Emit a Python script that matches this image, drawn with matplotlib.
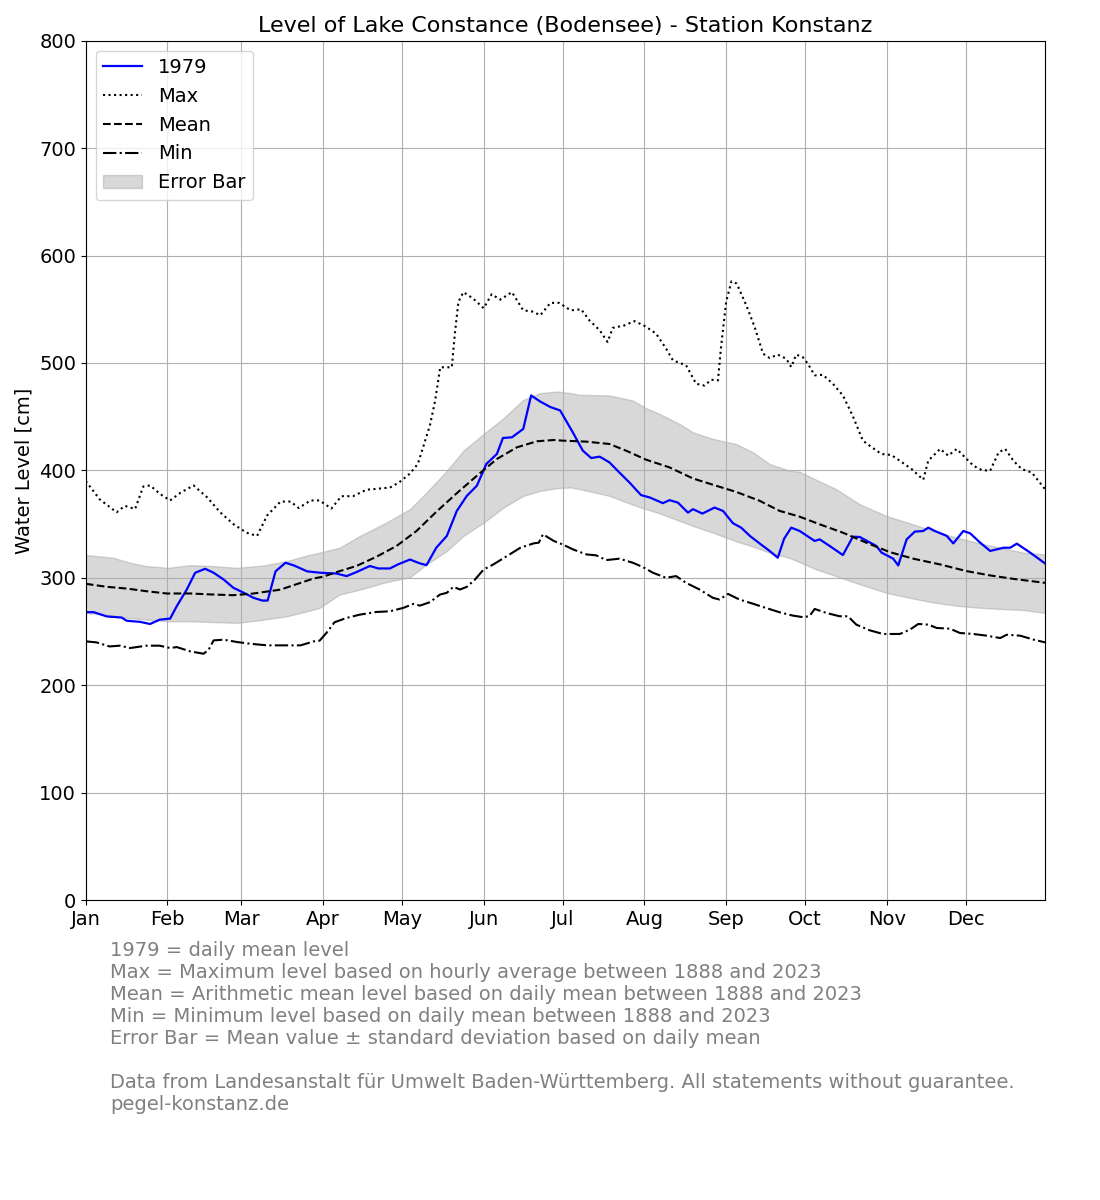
import matplotlib
matplotlib.use("Agg")
import matplotlib.pyplot as plt
import numpy as np

# 1979 daily mean level (day of year, cm)
y1979_days = [0, 3, 8, 13.6, 15.5, 20.5, 24.4, 28, 32, 34.5, 38.3, 41.5, 45.3, 48.5, 52.3, 56, 60, 63.7, 67, 69,
              72, 75.8, 79, 84, 89, 95, 99, 102.7, 107.8, 111, 115.4, 118.5, 123, 126.8, 129.3, 133, 137, 140.8,
              144.6, 148.4, 152, 156, 158.3, 161.7, 166, 169, 172.5, 176.3, 180, 184.8, 188.6, 191.8, 195, 198.7,
              202.5, 206.3, 210.7, 214, 219, 221.5, 224.7, 228.5, 230.4, 234, 238.6, 241.8, 245.6, 248.7, 252,
              255.7, 259.5, 262.6, 265, 267.7, 270.9, 276.6, 278.5, 282.3, 287.3, 291.1, 293.7, 300, 302, 306.4,
              308.3, 311.5, 314.6, 317.8, 319.7, 322.2, 326.7, 329.2, 333, 335.6, 339.4, 343.2, 348.3, 350.8,
              353.3, 358.4, 364]
y1979_vals = [268, 268, 264, 263, 260, 259, 257, 261, 262, 273.5, 289, 304.7, 308.4, 304.7, 298.4, 290.7, 286, 281.3,
              278.8, 278.8, 306, 314, 311.5, 306, 304.7, 304, 301.6, 305.3, 311, 308.7, 308.7, 312.5, 317, 313.4,
              311.8, 328, 339, 362.3, 376.3, 385.7, 406, 415.3, 430.2, 430.8, 438.6, 469.8, 464, 459, 455.8, 435.5,
              418.4, 411.5, 412.8, 407.5, 398, 388.8, 377, 374.8, 369.5, 372.3, 370, 360.7, 363.9, 359.8, 365.4,
              362.3, 350.8, 346.7, 339, 332, 325, 318.7, 336.4, 346.7, 343.6, 334.3, 335.8, 329.6, 321.2, 338.3,
              338, 329.6, 323.4, 317.8, 311.5, 335.8, 343, 343.6, 346.7, 343.6, 339, 332, 343.6, 341.4, 332.7, 325,
              328, 328, 331.8, 323.4, 313.4]

# Max level 1888-2023
max_days = [0, 5.3, 11.7, 14.8, 18.7, 21.8, 24.4, 28.2, 32, 35.8, 40.9, 46, 51, 56, 61, 65, 68.8, 73.9, 77.7, 80.8,
            85.3, 88.7, 93.2, 97, 101.4, 106.5, 111, 115.4, 119, 123, 126, 128, 130.6, 132.5, 134.5, 138.9, 140,
            141.4, 143.3, 147, 151, 154, 157.3, 161.7, 166, 169.3, 172.5, 176.3, 179.6, 184, 188, 191, 195, 198,
            200, 204.4, 208.2, 212, 216.4, 220.2, 222.8, 227.8, 231.6, 234.8, 237.3, 239.9, 241, 243, 245, 247,
            250.6, 253.8, 257, 259.5, 262.6, 265.8, 267.7, 269.6, 272, 274, 276.6, 279.7, 283.5, 287.3, 291,
            294.9, 298, 301.9, 305.7, 308.9, 313.4, 317.8, 319.7, 324.2, 327.3, 330.5, 333.7, 336.8, 340, 343.2,
            346.4, 348.9, 352, 355.2, 359, 364]
max_vals = [390, 373, 361, 367, 364, 385, 386, 378, 372, 379, 386, 375, 361, 350, 342, 339, 358, 371, 371, 365,
            372, 372, 364.5, 376, 376, 382, 383, 384, 389, 397, 406, 421.5, 442, 464, 496, 496, 526,
            557, 566, 560, 551, 564, 559, 566, 549, 548, 544.5, 556, 556, 549, 550, 540, 530.5, 519.6,
            532.7, 535, 539, 534.6, 527.4, 513.4, 502.5, 497.8, 480.7, 479, 484.4, 483.8, 513.4, 557, 576, 574,
            554, 533.6, 508.7, 504.7, 507.8, 504, 496.3, 507.8, 505.6, 499.4, 488.5, 489, 480.7, 469.8, 451,
            427.7, 422, 415.3, 414.3, 409, 401.2, 391.3, 409, 420, 413.7, 420, 412, 404.4, 400.3, 399.7,
            416.8, 420, 409, 401.2, 398, 382.5]

# Mean level 1888-2023
mean_days = [0, 8, 15.5, 23, 30.7, 39.6, 48.5, 56, 63.7, 73.9, 81.5, 86.5, 90, 96.3, 102.7, 110.3, 117.9, 125.5,
             133, 140.8, 148.4, 156, 163.6, 171.2, 177.6, 181, 189.9, 198.7, 205, 212.6, 221.5, 230.4, 239.2,
             246.8, 255.7, 263.3, 270.8, 278.5, 287.3, 296.2, 305, 314, 324.1, 334.3, 343.2, 352, 364]
mean_vals = [294.4, 291.6, 290, 287.5, 285.4, 285.4, 284.4, 283.8, 285.4, 289, 295.3, 299.4, 301, 306.2, 311, 319.6,
             329.6, 343.6, 361.4, 378.8, 395, 410.6, 421.5, 427.1, 428.3, 427.7, 426.8, 424.6, 418.4, 410, 402.8,
             392.5, 385.7, 380, 371.7, 362.3, 357, 349.8, 342, 332.7, 324, 317.8, 312.5, 306.2, 302.2, 299, 295.3]

# Min level 1888-2023
min_days = [0, 4, 9, 13, 16.8, 23, 28, 32, 34.5, 39.6, 44.7, 46.6, 48.5, 52.3, 57.4, 62.4, 68.8, 76.4, 81.5, 86.5,
            88.7, 91.3, 94.4, 98.9, 104, 110.3, 115.4, 120.5, 124.3, 126.8, 130.6, 134.4, 137, 139.5, 142, 144.6,
            147.7, 151, 154.7, 159.8, 164.9, 170, 171.9, 173.5, 177.6, 181, 184.8, 189.9, 193.7, 197.5, 202.5,
            207.6, 211.4, 215.2, 220.2, 224, 227.8, 232.9, 238, 240.5, 243.7, 248, 253, 258, 263.3, 268.3, 272,
            274.6, 276.6, 281, 286, 289.2, 292.4, 297.5, 302.5, 308.9, 312.7, 315.9, 319.7, 322.9, 328, 331.7,
            336.8, 341.9, 347, 349.5, 354.6, 359.7, 364]
min_vals = [240.8, 239.9, 236.1, 236.8, 234.6, 236.8, 236.8, 234.6, 235.5, 231.5, 229.3, 233, 241.7, 242.4, 240.2,
            238.6, 237.1, 237.1, 237.1, 240.8, 241.4, 248.6, 258.6, 262.6, 265.7, 268.2, 268.8, 272, 275.7, 274.1,
            277.3, 284.4, 286, 291.6, 289.1, 291.6, 298.4, 307.8, 312.5, 320.2, 328, 332.1, 332.7, 340.5, 334.3,
            331, 326.5, 321.8, 320.9, 316.5, 317.8, 314, 310, 304.7, 300, 301.6, 295.3, 289.1, 281.3, 279.8, 285,
            279.8, 276, 272, 267.9, 264.8, 263.4, 264.2, 271, 267.3, 264.2, 264.2, 256.4, 251.1, 247.7, 247.7,
            251.7, 257, 256.4, 253.3, 252.6, 248.6, 247.7, 246.1, 243.9, 247, 246.1, 242.4, 239.9]

# Mean +/- standard deviation
band_days = [0, 10.4, 16.8, 23, 31.3, 39.6, 48.5, 57.4, 67.5, 76.4, 84, 88.7, 96.3, 104, 114, 123, 129.3, 137,
             143.3, 151, 158.5, 166, 172.5, 178.8, 184, 187.3, 198.7, 207.6, 212.6, 217.7, 225.3, 230.4, 238,
             246.8, 253.2, 259.5, 267.1, 270.8, 277.2, 284.8, 293.7, 303.8, 312.7, 321.6, 330.5, 338.1, 347,
             355.9, 364]
band_upper = [321.2, 318.7, 314, 310.9, 309.3, 311.8, 310.9, 309.3, 311.5, 315.6, 320.9, 323.4, 328, 339, 351.4,
              363.9, 379.4, 399.7, 418.4, 434, 448.6, 465.7, 472, 473.5, 472, 470.4, 469.8, 465.1, 458, 452.6,
              443.3, 435.5, 429.3, 424.6, 416.8, 405.9, 399.7, 398.8, 391.3, 382.5, 368.5, 357.6, 350.8, 343.6,
              337.4, 332.7, 328, 323.4, 321.8]
band_lower = [267.3, 264.8, 262.5, 261.1, 259.5, 259.5, 258.8, 258, 261, 264.2, 268.8, 272, 284.4, 289, 296,
              300.5, 312.5, 325, 339, 351.4, 365.4, 376.3, 381, 383.5, 384.1, 382.6, 376.3, 368, 363.9, 360,
              353, 348.3, 342, 334, 329, 323.4, 318.5, 314.6, 307.8, 301.5, 294, 286, 281.3, 277, 274, 272.3,
              271, 270, 267.3]

month_starts = [0, 31, 59, 90, 120, 151, 181, 212, 243, 273, 304, 334]
month_labels = ["Jan", "Feb", "Mar", "Apr", "May", "Jun", "Jul", "Aug", "Sep", "Oct", "Nov", "Dec"]

footer = ("1979 = daily mean level\n"
          "Max = Maximum level based on hourly average between 1888 and 2023\n"
          "Mean = Arithmetic mean level based on daily mean between 1888 and 2023\n"
          "Min = Minimum level based on daily mean between 1888 and 2023\n"
          "Error Bar = Mean value \u00b1 standard deviation based on daily mean\n"
          "\n"
          "Data from Landesanstalt f\u00fcr Umwelt Baden-W\u00fcrttemberg. All statements without guarantee.\n"
          "pegel-konstanz.de")

plt.rcParams["font.size"] = 14

fig = plt.figure(figsize=(11, 12), dpi=100)
ax = fig.add_axes([0.078, 0.25, 0.872, 0.716])

ax.plot(y1979_days, y1979_vals, color="blue", lw=1.6, label="1979")
ax.plot(max_days, max_vals, color="black", ls=":", lw=1.5, label="Max")
ax.plot(mean_days, mean_vals, color="black", ls="--", lw=1.5, label="Mean")
ax.plot(min_days, min_vals, color="black", ls="-.", lw=1.5, label="Min")
ax.fill_between(band_days, band_lower, band_upper, color="grey", alpha=0.3, label="Error Bar")

ax.set_xlim(0, 364)
ax.set_ylim(0, 800)
ax.set_xticks(month_starts)
ax.set_xticklabels(month_labels)
ax.set_ylabel("Water Level [cm]")
ax.set_title("Level of Lake Constance (Bodensee) - Station Konstanz", fontsize=16)
ax.grid(True)
ax.legend(loc="upper left")

fig.text(0.1, 0.2155, footer, color="grey", fontsize=14, va="top", ha="left", linespacing=1.2)

fig.savefig("out.png", dpi=100)
